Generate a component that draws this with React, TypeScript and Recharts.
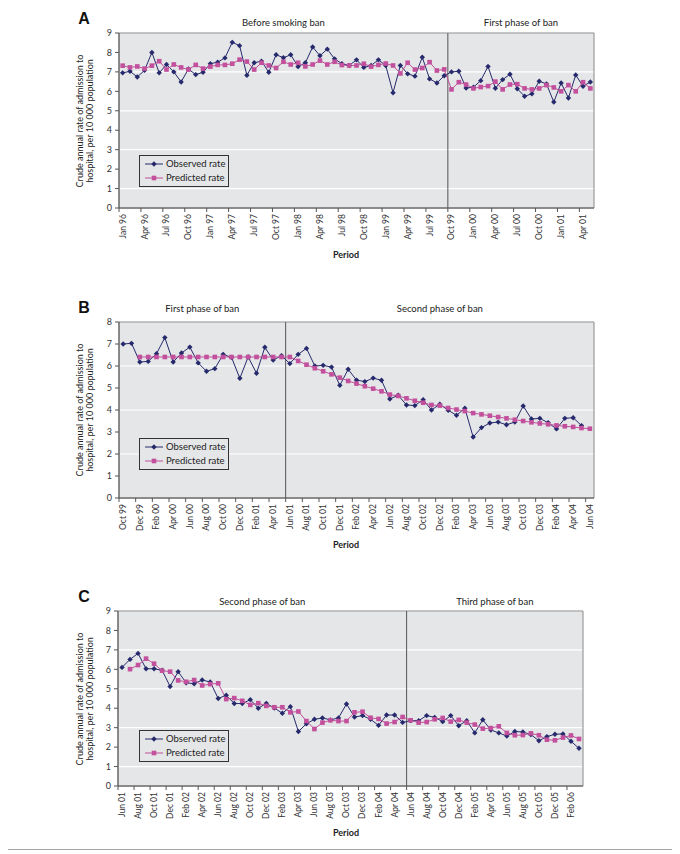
import { LineChart, Line, XAxis, YAxis, CartesianGrid, ReferenceLine, ReferenceArea } from 'recharts';

// Panel A: monthly, Jan 96 to May 01
const observedA = [
  6.95, 7.03, 6.74, 7.08, 8.0, 6.95, 7.38, 7.0, 6.48, 7.15, 6.86, 6.98,
  7.42, 7.5, 7.72, 8.52, 8.35, 6.83, 7.47, 7.55, 6.98, 7.88, 7.73, 7.88,
  7.27, 7.47, 8.28, 7.83, 8.17, 7.67, 7.42, 7.33, 7.62, 7.23, 7.33, 7.62,
  7.33, 5.93, 7.33, 6.9, 6.78, 7.75, 6.64, 6.43, 6.8, 7.0, 7.03, 6.17,
  6.21, 6.55, 7.28, 6.16, 6.6, 6.88, 6.13, 5.75, 5.87, 6.52, 6.38, 5.45,
  6.43, 5.66, 6.84, 6.26, 6.48,
];
const predictedA = [
  7.32, 7.23, 7.28, 7.17, 7.32, 7.55, 7.12, 7.38, 7.23, 7.12, 7.36, 7.17,
  7.27, 7.36, 7.36, 7.42, 7.63, 7.53, 7.12, 7.47, 7.33, 7.2, 7.52, 7.38,
  7.47, 7.28, 7.38, 7.58, 7.38, 7.52, 7.35, 7.33, 7.33, 7.42, 7.27, 7.36,
  7.43, 7.33, 6.92, 7.47, 7.12, 7.2, 7.5, 7.07, 7.13, 6.1, 6.47, 6.35,
  6.15, 6.22, 6.27, 6.5, 6.1, 6.35, 6.37, 6.15, 6.1, 6.15, 6.32, 6.2,
  6.0, 6.32, 6.0, 6.47, 6.15,
];
const labelsA = [
  'Jan 96', 'Apr 96', 'Jul 96', 'Oct 96', 'Jan 97', 'Apr 97', 'Jul 97', 'Oct 97',
  'Jan 98', 'Apr 98', 'Jul 98', 'Oct 98', 'Jan 99', 'Apr 99', 'Jul 99', 'Oct 99',
  'Jan 00', 'Apr 00', 'Jul 00', 'Oct 00', 'Jan 01', 'Apr 01',
];
const phasesA = ['Before smoking ban', 'First phase of ban'];
const phaseStartA = 45; // Oct 99

// Panel B: monthly, Oct 99 to Jun 04
const observedB = [
  7.0, 7.03, 6.18, 6.21, 6.56, 7.29, 6.18, 6.59, 6.86, 6.14, 5.76, 5.88,
  6.53, 6.39, 5.44, 6.41, 5.67, 6.85, 6.27, 6.47, 6.11, 6.53, 6.8, 6.0,
  6.03, 5.95, 5.12, 5.85, 5.36, 5.29, 5.45, 5.35, 4.5, 4.67, 4.23, 4.2,
  4.47, 4.0, 4.26, 3.99, 3.76, 4.08, 2.77, 3.2, 3.41, 3.45, 3.33, 3.45,
  4.18, 3.59, 3.62, 3.42, 3.14, 3.62, 3.65, 3.29, null,
];
const predictedB = [
  null, null, 6.41, 6.41, 6.41, 6.41, 6.41, 6.41, 6.41, 6.41, 6.41, 6.41,
  6.41, 6.41, 6.41, 6.41, 6.41, 6.41, 6.41, 6.41, 6.41, 6.23, 6.06, 5.9,
  5.76, 5.62, 5.47, 5.32, 5.2, 5.08, 4.97, 4.85, 4.7, 4.64, 4.53, 4.42,
  4.33, 4.23, 4.2, 4.09, 4.02, 3.95, 3.86, 3.8, 3.74, 3.68, 3.62, 3.56,
  3.5, 3.44, 3.39, 3.35, 3.3, 3.26, 3.23, 3.18, 3.15,
];
const labelsB = [
  'Oct 99', 'Dec 99', 'Feb 00', 'Apr 00', 'Jun 00', 'Aug 00', 'Oct 00', 'Dec 00',
  'Feb 01', 'Apr 01', 'Jun 01', 'Aug 01', 'Oct 01', 'Dec 01', 'Feb 02', 'Apr 02',
  'Jun 02', 'Aug 02', 'Oct 02', 'Dec 02', 'Feb 03', 'Apr 03', 'Jun 03', 'Aug 03',
  'Oct 03', 'Dec 03', 'Feb 04', 'Apr 04', 'Jun 04',
];
const phasesB = ['First phase of ban', 'Second phase of ban'];
const phaseStartB = 20; // Jun 01

// Panel C: monthly, Jun 01 to Mar 06
const observedC = [
  6.1, 6.51, 6.82, 6.03, 6.03, 5.95, 5.12, 5.88, 5.31, 5.26, 5.45, 5.35,
  4.5, 4.67, 4.24, 4.24, 4.44, 4.0, 4.25, 4.01, 3.74, 4.08, 2.8, 3.2,
  3.43, 3.5, 3.4, 3.5, 4.22, 3.55, 3.62, 3.43, 3.12, 3.65, 3.65, 3.27,
  3.36, 3.36, 3.62, 3.53, 3.31, 3.62, 3.1, 3.36, 2.73, 3.41, 2.88, 2.73,
  2.57, 2.8, 2.78, 2.64, 2.33, 2.54, 2.66, 2.68, 2.3, 1.94,
];
const predictedC = [
  null, 6.01, 6.22, 6.55, 6.29, 5.93, 5.88, 5.43, 5.36, 5.45, 5.17, 5.24,
  5.28, 4.47, 4.52, 4.38, 4.17, 4.26, 4.12, 4.05, 4.05, 3.79, 3.83, 3.34,
  2.93, 3.26, 3.38, 3.34, 3.34, 3.79, 3.82, 3.51, 3.45, 3.21, 3.29, 3.55,
  3.38, 3.26, 3.29, 3.43, 3.5, 3.31, 3.4, 3.26, 3.16, 2.95, 2.98, 3.07,
  2.73, 2.61, 2.62, 2.71, 2.61, 2.38, 2.35, 2.49, 2.6, 2.42,
];
const labelsC = [
  'Jun 01', 'Aug 01', 'Oct 01', 'Dec 01', 'Feb 02', 'Apr 02', 'Jun 02', 'Aug 02',
  'Oct 02', 'Dec 02', 'Feb 03', 'Apr 03', 'Jun 03', 'Aug 03', 'Oct 03', 'Dec 03',
  'Feb 04', 'Apr 04', 'Jun 04', 'Aug 04', 'Oct 04', 'Dec 04', 'Feb 05', 'Apr 05',
  'Jun 05', 'Aug 05', 'Oct 05', 'Dec 05', 'Feb 06',
];
const phasesC = ['Second phase of ban', 'Third phase of ban'];
const phaseStartC = 36; // Jun 04

const seriesNames = ['Observed rate', 'Predicted rate'];

const FONT = 'Lato, "Open Sans", sans-serif';
const OBS = '#262a6c';
const PRED = '#c2509c';
const BG = '#e5e6e8';
const AXIS = '#555';

function Diamond(props: any) {
  const { cx, cy, index } = props;
  if (cx == null || cy == null || props.value == null) return <g key={index} />;
  const r = 2.7;
  return <path key={index} d={`M${cx},${cy - r}L${cx + r},${cy}L${cx},${cy + r}L${cx - r},${cy}Z`} fill={OBS} />;
}

function Square(props: any) {
  const { cx, cy, index } = props;
  if (cx == null || cy == null || props.value == null) return <g key={index} />;
  const s = 2.3;
  return <rect key={index} x={cx - s} y={cy - s} width={s * 2} height={s * 2} fill={PRED} />;
}

function makeTick(labels: string[], step: number, half: number) {
  return (props: any) => {
    const { x, y, payload } = props;
    const label = labels[Math.round(payload.value / step)];
    const ty = y + 6;
    return (
      <g>
        <line x1={x - half} x2={x - half} y1={y} y2={y + 4} stroke={AXIS} />
        <text x={x} y={ty} transform={`rotate(-90, ${x}, ${ty})`} textAnchor="end" dy="0.35em"
          fontSize={8.5} fill="#333" fontFamily={FONT}>{label}</text>
      </g>
    );
  };
}

function LegendBox({ left, top }: { left: number; top: number }) {
  return (
    <div style={{ position: 'absolute', left, top, width: 90, height: 32, border: '1px solid #333', background: BG, boxSizing: 'border-box', fontFamily: FONT, fontSize: 9.5, color: '#222' }}>
      {seriesNames.map((name, k) => (
        <div key={name} style={{ position: 'absolute', left: 5, top: 2 + k * 14, height: 12, display: 'flex', alignItems: 'center' }}>
          <svg width={18} height={12}>
            <line x1={0} x2={18} y1={6} y2={6} stroke={k === 0 ? OBS : PRED} strokeWidth={1} />
            {k === 0
              ? <path d="M9,3.3L11.7,6L9,8.7L6.3,6Z" fill={OBS} />
              : <rect x={6.7} y={3.7} width={4.6} height={4.6} fill={PRED} />}
          </svg>
          <span style={{ marginLeft: 3, lineHeight: '12px' }}>{name}</span>
        </div>
      ))}
    </div>
  );
}

type PanelProps = {
  letter: string;
  observed: (number | null)[];
  predicted: (number | null)[];
  labels: string[];
  step: number;
  phases: string[];
  phaseStart: number;
  yMax: number;
  plotTop: number;
  plotBottom: number;
  plotLeft: number;
  plotRight: number;
  titleOffset: number;
  legendTop: number;
};

function Panel(p: PanelProps) {
  const n = p.observed.length;
  const data = p.observed.map((o, i) => ({ i, observed: o, predicted: p.predicted[i] }));
  const ticks = p.labels.map((_, k) => k * p.step);
  const yTicks = Array.from({ length: p.yMax + 1 }, (_, k) => k);
  const half = (p.plotRight - p.plotLeft) / n / 2;
  const chartTop = p.plotTop - 24;
  const xAxisHeight = 44;
  const height = p.plotBottom - p.plotTop + 24 + xAxisHeight;
  const split = p.phaseStart - 0.5;
  const lo = -0.5;
  const hi = n - 0.5;
  const mid = (p.plotTop + p.plotBottom) / 2;
  const titleLabel = (value: string) => ({ value, position: 'top' as const, offset: p.titleOffset, fontSize: 9.5, fill: '#222', fontFamily: FONT });

  return (
    <>
      <div style={{ position: 'absolute', left: 84, top: p.plotTop - 14, transform: 'translate(-50%, -50%)', fontFamily: 'Liberation Sans, Arial, sans-serif', fontWeight: 'bold', fontSize: 16, color: '#111' }}>{p.letter}</div>
      <div style={{ position: 'absolute', left: 85, top: mid, width: 200, transform: 'translate(-50%, -50%) rotate(-90deg)', textAlign: 'center', fontFamily: FONT, fontSize: 9, lineHeight: '10px', color: '#222' }}>
        Crude annual rate of admission to<br />hospital, per 10 000 population
      </div>
      <div style={{ position: 'absolute', left: 0, top: chartTop }}>
        <LineChart width={680} height={height} data={data} margin={{ top: 24, right: 680 - p.plotRight, bottom: 0, left: 0 }}>
          <CartesianGrid vertical={false} stroke="#ffffff" strokeWidth={1.2} fill={BG} />
          <XAxis type="number" dataKey="i" domain={[lo, hi]} ticks={ticks} interval={0} height={xAxisHeight}
            tickSize={0} tickMargin={0} tickLine={false} axisLine={{ stroke: AXIS }} tick={makeTick(p.labels, p.step, half)} />
          <YAxis type="number" domain={[0, p.yMax]} ticks={yTicks} width={p.plotLeft} tickSize={4} tickMargin={3}
            axisLine={{ stroke: AXIS }} tickLine={{ stroke: AXIS }} tick={{ fontSize: 9, fill: '#333', fontFamily: FONT }} />
          <ReferenceArea x1={lo} x2={hi} y1={0} y2={p.yMax} fill="none" stroke="#8a8a8a" strokeWidth={1} />
          <ReferenceArea x1={lo} x2={split} y1={0} y2={p.yMax} fill="none" stroke="none" label={titleLabel(p.phases[0])} />
          <ReferenceArea x1={split} x2={hi} y1={0} y2={p.yMax} fill="none" stroke="none" label={titleLabel(p.phases[1])} />
          <ReferenceLine x={split} stroke={AXIS} strokeWidth={1} />
          <Line dataKey="observed" stroke={OBS} strokeWidth={1} dot={Diamond} activeDot={false} isAnimationActive={false} />
          <Line dataKey="predicted" stroke={PRED} strokeWidth={1} dot={Square} activeDot={false} isAnimationActive={false} />
        </LineChart>
      </div>
      <LegendBox left={139} top={p.legendTop} />
      <div style={{ position: 'absolute', left: 346, top: p.plotBottom + 46, transform: 'translate(-50%, -50%)', fontFamily: FONT, fontWeight: 'bold', fontSize: 9, color: '#222' }}>Period</div>
    </>
  );
}

export default function App() {
  return (
    <div style={{ position: 'relative', width: 680, height: 854, margin: '-8px 0 0 -8px', background: '#fff' }}>
      <div style={{ position: 'absolute', left: 3, top: 3, width: 674, height: 847, border: '1.5px solid #a5a5a5', boxSizing: 'border-box' }} />
      <Panel letter="A" observed={observedA} predicted={predictedA} labels={labelsA} step={3}
        phases={phasesA} phaseStart={phaseStartA} yMax={9}
        plotTop={33} plotBottom={208} plotLeft={119} plotRight={594} titleOffset={7} legendTop={155} />
      <Panel letter="B" observed={observedB} predicted={predictedB} labels={labelsB} step={2}
        phases={phasesB} phaseStart={phaseStartB} yMax={8}
        plotTop={322} plotBottom={498} plotLeft={119} plotRight={594} titleOffset={10} legendTop={438} />
      <Panel letter="C" observed={observedC} predicted={predictedC} labels={labelsC} step={2}
        phases={phasesC} phaseStart={phaseStartC} yMax={9}
        plotTop={611} plotBottom={786} plotLeft={118} plotRight={583} titleOffset={6} legendTop={730} />
    </div>
  );
}
